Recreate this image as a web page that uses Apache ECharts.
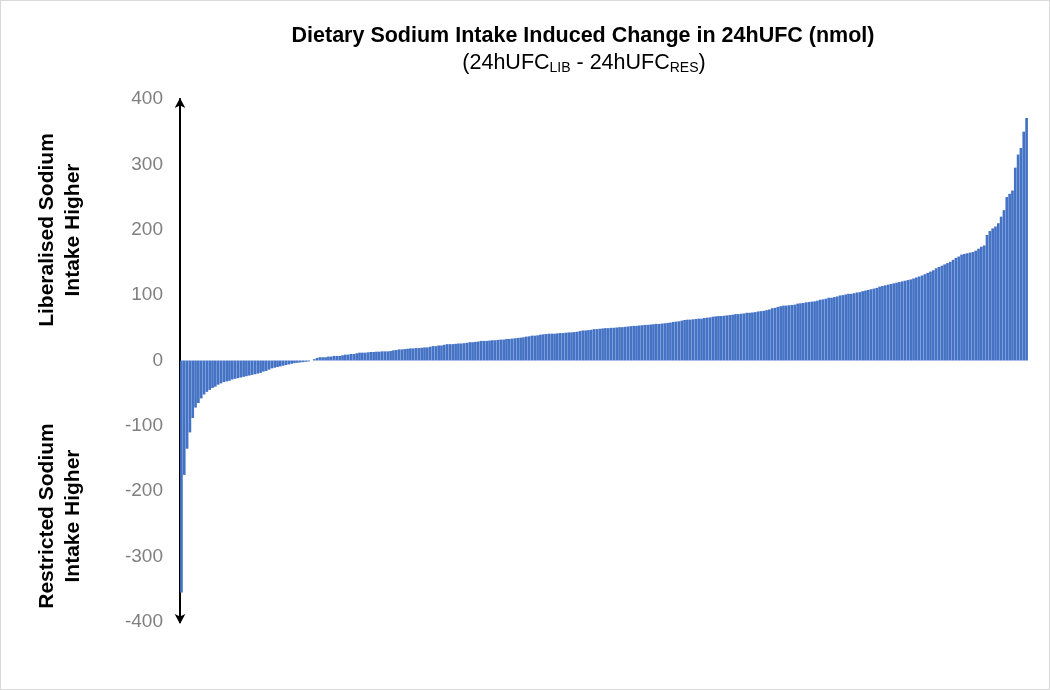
<!DOCTYPE html>
<html>
<head>
<meta charset="utf-8">
<script src="https://cdn.jsdelivr.net/npm/echarts@6/dist/echarts.min.js"></script>
<style>
  html, body { margin: 0; padding: 0; background: #fff; }
  #chart { width: 1050px; height: 690px; box-sizing: border-box; border: 1px solid #d9d9d9; }
</style>
</head>
<body>
<div id="chart"></div>
<script>
// Change in 24hUFC (nmol), sorted ascending, one bar per participant
const negativeValues = [
  -355, -175, -135, -110, -88, -72, -65, -58, -52, -48,
  -45, -42, -40, -37, -35, -33, -32, -31, -29, -28,
  -27, -26, -25, -24, -23, -22, -21, -20, -19, -17,
  -16, -14, -12, -11, -10, -9, -8, -7, -6, -5,
  -4, -3.5, -3, -2.5, -2, -1.5, 0
];
const positiveValues = [
  2, 4, 5, 5, 5, 6, 6, 7, 7, 7,
  8, 9, 9, 10, 10, 11, 12, 12, 12, 12.5,
  13, 13, 13.5, 13.5, 14, 14, 14, 14.5, 15.5, 16,
  17, 17, 17.5, 18, 18.5, 18.5, 19, 19, 19.5, 20,
  20, 21, 22, 22, 23, 23, 24, 25, 25, 25,
  25.5, 26, 26, 26.5, 27, 28, 28, 28.5, 29, 30,
  30, 30, 30.5, 31, 31, 31.5, 32, 32, 33, 33,
  33.5, 34, 34.5, 35, 35.5, 36.5, 37, 38, 38, 38.5,
  39.5, 40, 40.5, 41, 41, 41, 41.5, 42, 42, 42.5,
  43, 43, 43.5, 44, 45, 46, 46, 46.5, 47, 48,
  48, 48.5, 49, 49.5, 49.5, 50, 50, 50.5, 51, 51,
  51.5, 52, 52.5, 53, 53, 53.5, 54, 54.5, 54.5, 55,
  55.5, 56, 56, 56.5, 57, 57.5, 58, 59, 59.5, 60,
  61, 62, 62.5, 62.5, 63, 63.5, 64, 64, 65, 65.5,
  66, 67, 67.5, 68, 68, 68.5, 69, 69.5, 70, 71,
  71, 71.5, 72, 73, 73, 73.5, 74, 75, 75.5, 76,
  77, 78, 80, 80.5, 82, 83, 84, 84, 84.5, 85,
  85.5, 87, 87.5, 88, 89, 89.5, 90, 90.5, 91.5, 93,
  93.5, 94.5, 96, 96, 97, 98, 99.5, 100, 101, 102,
  102, 103, 104, 104.5, 106, 107, 108, 109, 110, 111,
  113, 114, 115, 116, 117, 118, 119, 120, 121, 122,
  123, 124, 125.5, 127, 128.5, 130, 132, 134, 136, 138,
  141, 143, 145, 147, 149, 151, 154, 157, 159, 162,
  163, 164, 165, 166, 168, 171, 174, 176, 192, 198,
  202, 205, 210, 220, 230, 250, 255, 260, 295, 315,
  325, 350, 371
];
const values = negativeValues.concat(positiveValues);
const categories = values.map((v, i) => 'P' + (i + 1));
const yTicks = { min: -400, max: 400, interval: 100 };

const titleText = 'Dietary Sodium Intake Induced Change in 24hUFC (nmol)';
const subtitleParts = ['(24hUFC', 'LIB', ' - 24hUFC', 'RES', ')'];
const upperLabel = ['Liberalised Sodium', 'Intake Higher'];
const lowerLabel = ['Restricted Sodium', 'Intake Higher'];

const FONT = '"Liberation Sans", Arial, sans-serif';
const chart = echarts.init(document.getElementById('chart'), null, { renderer: 'canvas' });

function sideText(txt, x, y) {
  return {
    type: 'text', x: x, y: y, rotation: Math.PI / 2,
    style: { text: txt, fontFamily: FONT, fontSize: 21, fontWeight: 'bold', fill: '#000',
             textAlign: 'center', textVerticalAlign: 'middle' }
  };
}

chart.setOption({
  animation: false,
  grid: { left: 179, right: 21, top: 98, bottom: 67, containLabel: false },
  xAxis: {
    type: 'category', data: categories,
    axisLine: { show: false }, axisTick: { show: false }, axisLabel: { show: false },
    splitLine: { show: false }
  },
  yAxis: {
    type: 'value', min: yTicks.min, max: yTicks.max, interval: yTicks.interval,
    axisLine: { show: true, lineStyle: { color: '#000', width: 2 },
                symbol: ['arrow', 'arrow'], symbolSize: [8, 10], symbolOffset: [-2, 1] },
    axisTick: { show: false },
    splitLine: { show: false },
    axisLabel: { color: '#808080', fontSize: 19, fontFamily: FONT, margin: 17 }
  },
  series: [{
    type: 'bar', data: values,
    barCategoryGap: '5%',
    itemStyle: { color: '#4472C4' },
    silent: true
  }],
  graphic: [
    { type: 'text', x: 582, y: 35,
      style: { text: titleText, fontFamily: FONT, fontSize: 21.5, fontWeight: 'bold', fill: '#000',
               textAlign: 'center', textVerticalAlign: 'middle' } },
    { type: 'text', x: 583, y: 62,
      style: {
        text: '{m|' + subtitleParts[0] + '}{s|' + subtitleParts[1] + '}{m|' + subtitleParts[2] + '}{s|' + subtitleParts[3] + '}{m|' + subtitleParts[4] + '}',
        textAlign: 'center', textVerticalAlign: 'middle',
        rich: {
          m: { fontFamily: FONT, fontSize: 21.5, fill: '#000', color: '#000', lineHeight: 26, verticalAlign: 'middle' },
          s: { fontFamily: FONT, fontSize: 14, fill: '#000', color: '#000', lineHeight: 26, verticalAlign: 'middle', padding: [11, 0, 0, 0] }
        }
      } },
    sideText(upperLabel[0], 46, 229),
    sideText(upperLabel[1], 72, 229),
    sideText(lowerLabel[0], 46, 515),
    sideText(lowerLabel[1], 72, 515)
  ]
});
</script>
</body>
</html>
